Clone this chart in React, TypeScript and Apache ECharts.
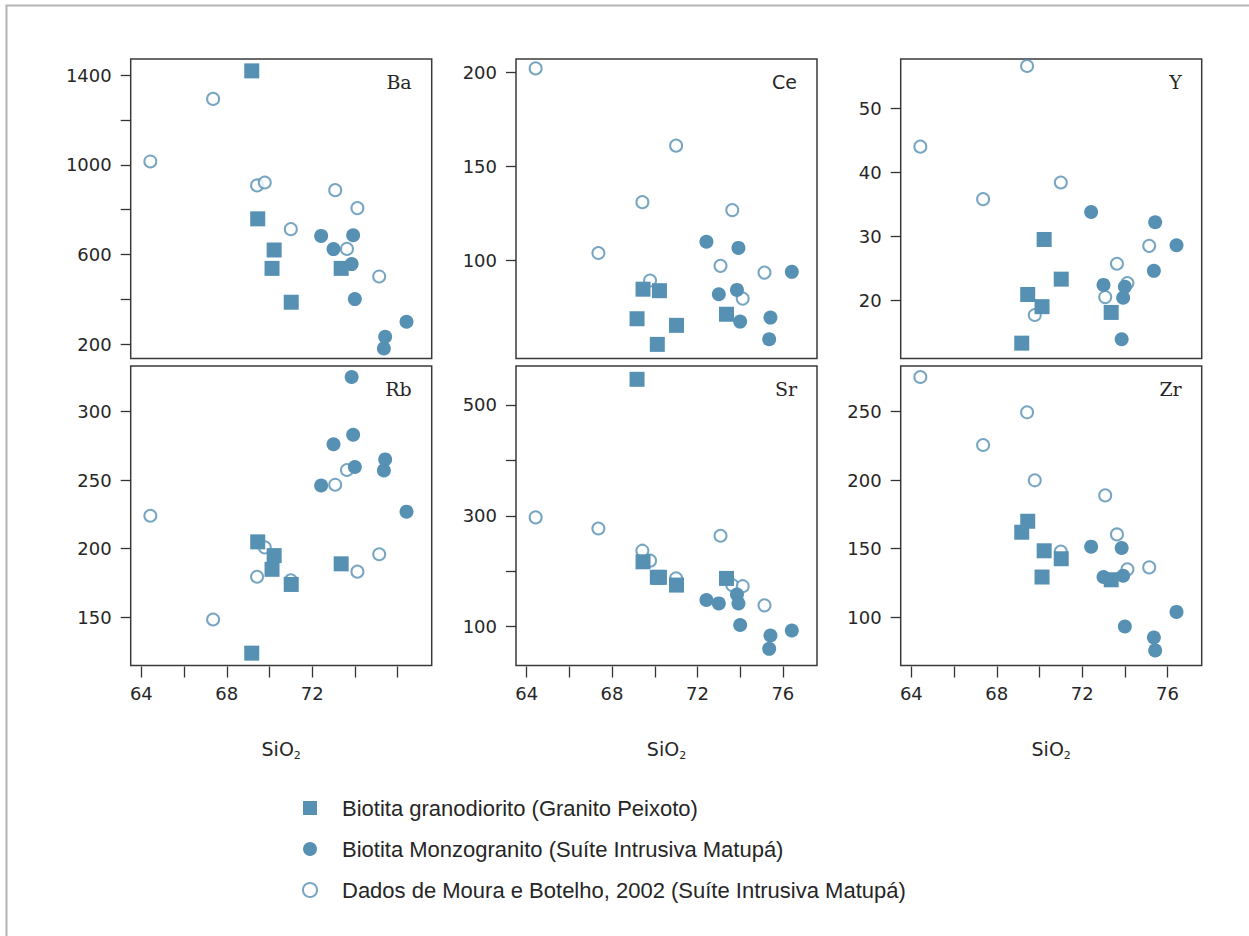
import { useEffect, useRef } from "react";
import * as echarts from "echarts";

// ---- data ----
const groupNames = [
  "Biotita granodiorito (Granito Peixoto)",
  "Biotita Monzogranito (Suíte Intrusiva Matupá)",
  "Dados de Moura e Botelho, 2002 (Suíte Intrusiva Matupá)",
];

const panelElements = ["Ba", "Ce", "Y", "Rb", "Sr", "Zr"];

// Biotita granodiorito (squares)
const sio2Granodiorito = [69.17, 69.45, 70.12, 70.22, 71.02, 73.36];
const granodioritoBa = [1419, 759, 538, 620, 387, 538];
const granodioritoCe = [69.1, 84.8, 55.5, 84.0, 65.6, 71.5];
const granodioritoY = [13.3, 20.9, 19.0, 29.5, 23.3, 18.1];
const granodioritoRb = [124, 205, 185, 195, 174, 189];
const granodioritoSr = [546, 217, 189, 189, 175, 187];
const granodioritoZr = [162, 170, 129.4, 148.5, 142.7, 127.4];

// Biotita Monzogranito (filled circles)
const sio2Monzogranito = [72.42, 73.0, 73.85, 73.92, 74.0, 75.36, 75.42, 76.42];
const monzogranitoBa = [683, 624, 557, 686, 401, 181, 233, 300];
const monzogranitoCe = [110, 82.1, 84.4, 106.7, 67.6, 58.2, 69.7, 94];
const monzogranitoY = [33.8, 22.4, 13.9, 20.4, 22.1, 24.6, 32.2, 28.6];
const monzogranitoRb = [246, 276, 325, 283, 259.5, 257, 265, 227];
const monzogranitoSr = [148, 142, 158, 142, 103, 60, 84, 93];
const monzogranitoZr = [151.5, 129.4, 150.5, 130.3, 93.4, 85.4, 76, 104];

// Dados de Moura e Botelho, 2002 (hollow circles)
const sio2Moura = [64.42, 67.36, 69.42, 69.78, 71.0, 73.08, 73.63, 74.12, 75.14];
const mouraBa = [1015, 1294, 908, 921, 713, 887, 625, 807, 502];
const mouraCe = [202, 104, 131, 89.4, 161, 97.2, 126.8, 79.8, 93.6];
const mouraY = [44, 35.8, 56.6, 17.7, 38.4, 20.5, 25.7, 22.7, 28.5];
const mouraRb = [224, 148.5, 179.6, 201, 177, 246.6, 257.3, 183.3, 196];
const mouraSr = [297, 277, 237, 219, 187, 264, 175, 173, 138.5];
const mouraZr = [275, 225.5, 249.3, 199.8, 148, 188.8, 160.4, 135, 136.4];

// axes
const xRange = [63.5, 77.6];
const xTickValues = [64, 66, 68, 70, 72, 74, 76];
const xLabelValues = [
  [64, 68, 72],
  [64, 68, 72, 76],
  [64, 68, 72, 76],
];
const yRanges = [
  [136, 1472],
  [48, 207],
  [10.9, 57.7],
  [115, 333],
  [30, 570],
  [65, 283],
];
const yTickValues = [
  [200, 400, 600, 800, 1000, 1200, 1400],
  [100, 150, 200],
  [20, 30, 40, 50],
  [150, 200, 250, 300],
  [100, 200, 300, 400, 500],
  [100, 150, 200, 250],
];
const yLabelValues = [
  [200, 600, 1000, 1400],
  [100, 150, 200],
  [20, 30, 40, 50],
  [150, 200, 250, 300],
  [100, 300, 500],
  [100, 150, 200, 250],
];

const granodioritoValues = [granodioritoBa, granodioritoCe, granodioritoY, granodioritoRb, granodioritoSr, granodioritoZr];
const monzogranitoValues = [monzogranitoBa, monzogranitoCe, monzogranitoY, monzogranitoRb, monzogranitoSr, monzogranitoZr];
const mouraValues = [mouraBa, mouraCe, mouraY, mouraRb, mouraSr, mouraZr];

const zip = (xs: number[], ys: number[]) => xs.map((x, i) => [x, ys[i]]);

export default function App() {
  const ref = useRef<HTMLDivElement>(null);

  useEffect(() => {
    if (!ref.current) return;
    const chart = echarts.init(ref.current, undefined, { renderer: "svg" });

    const blue = "#5690b3";
    const ink = "#262626";
    const font = "DejaVu Sans";
    const colLeft = [130.7, 516, 900.7];
    const rowTop = [59, 366];
    const W = 301;
    const H = 299.5;
    const plain = (v: number) => String(v);

    const grids: any[] = [];
    const xAxes: any[] = [];
    const yAxes: any[] = [];
    const series: any[] = [];
    const graphics: any[] = [];

    for (let i = 0; i < 6; i++) {
      const row = Math.floor(i / 3);
      const col = i % 3;
      grids.push({
        left: colLeft[col],
        top: rowTop[row],
        width: W,
        height: H,
        show: true,
        borderColor: "#3a3a3a",
        borderWidth: 1.5,
        backgroundColor: "transparent",
        containLabel: false,
      });
      const bottom = row === 1;
      xAxes.push({
        type: "value",
        gridIndex: i,
        min: xRange[0],
        max: xRange[1],
        offset: 1,
        axisLine: { show: false },
        splitLine: { show: false },
        axisTick: bottom
          ? { show: true, customValues: xTickValues, length: 11, lineStyle: { color: "#333", width: 1.3 } }
          : { show: false },
        axisLabel: bottom
          ? { show: true, customValues: xLabelValues[col], formatter: plain, margin: 18, fontSize: 18, fontFamily: font, color: ink }
          : { show: false },
        name: bottom ? "{a|SiO}{b|2}" : "",
        nameLocation: "middle",
        nameGap: 70,
        nameTextStyle: {
          rich: {
            a: { fontSize: 19, fontFamily: font, color: ink, lineHeight: 24 },
            b: { fontSize: 11, fontFamily: font, color: ink, lineHeight: 12, verticalAlign: "bottom" },
          },
        },
      });
      yAxes.push({
        type: "value",
        gridIndex: i,
        min: yRanges[i][0],
        max: yRanges[i][1],
        axisLine: { show: false },
        splitLine: { show: false },
        axisTick: { show: true, customValues: yTickValues[i], length: 10, lineStyle: { color: "#333", width: 1.3 } },
        axisLabel: { show: true, customValues: yLabelValues[i], formatter: plain, margin: 19, fontSize: 18, fontFamily: font, color: ink },
      });

      series.push({
        type: "scatter",
        name: groupNames[2],
        xAxisIndex: i,
        yAxisIndex: i,
        symbol: "circle",
        symbolSize: 12,
        itemStyle: { color: "#ffffff", borderColor: blue, borderWidth: 2 },
        data: zip(sio2Moura, mouraValues[i]),
      });
      series.push({
        type: "scatter",
        name: groupNames[0],
        xAxisIndex: i,
        yAxisIndex: i,
        symbol: "rect",
        symbolSize: 15,
        itemStyle: { color: blue, opacity: 1 },
        data: zip(sio2Granodiorito, granodioritoValues[i]),
      });
      series.push({
        type: "scatter",
        name: groupNames[1],
        xAxisIndex: i,
        yAxisIndex: i,
        symbol: "circle",
        symbolSize: 14,
        itemStyle: { color: blue, opacity: 1 },
        data: zip(sio2Monzogranito, monzogranitoValues[i]),
      });

      const el = panelElements[i];
      graphics.push({
        type: "text",
        x: colLeft[col] + W - 20,
        y: rowTop[row] + 23,
        style: {
          text: el,
          font: el === "Ce" ? `19px "DejaVu Sans"` : `19px "DejaVu Serif"`,
          fill: ink,
          align: "right",
          verticalAlign: "middle",
        },
      });
    }

    // outer frame (top & left)
    graphics.push({
      type: "line",
      shape: { x1: 5.5, y1: 5.5, x2: 1249, y2: 5.5 },
      style: { stroke: "#b4b4b4", lineWidth: 2 },
    });
    graphics.push({
      type: "line",
      shape: { x1: 6.5, y1: 5, x2: 6.5, y2: 936 },
      style: { stroke: "#b4b4b4", lineWidth: 2 },
    });

    chart.setOption({
      animation: false,
      backgroundColor: "#ffffff",
      grid: grids,
      xAxis: xAxes,
      yAxis: yAxes,
      series,
      graphic: graphics,
      legend: {
        show: true,
        orient: "vertical",
        left: 297,
        top: 792,
        itemWidth: 54,
        itemHeight: 14,
        itemGap: 19,
        selectedMode: false,
        symbolKeepAspect: true,
        data: [
          { name: groupNames[0], icon: "path://M0,0L10,0L10,10L0,10Z" },
          { name: groupNames[1], icon: "circle" },
          { name: groupNames[2], icon: "circle" },
        ],
        textStyle: { fontSize: 22, fontFamily: "Liberation Sans", color: ink, lineHeight: 22 },
      },
    });

    return () => chart.dispose();
  }, []);

  return (
    <div
      ref={ref}
      style={{ position: "absolute", left: 0, top: 0, width: 1249, height: 936, background: "#fff" }}
    />
  );
}
